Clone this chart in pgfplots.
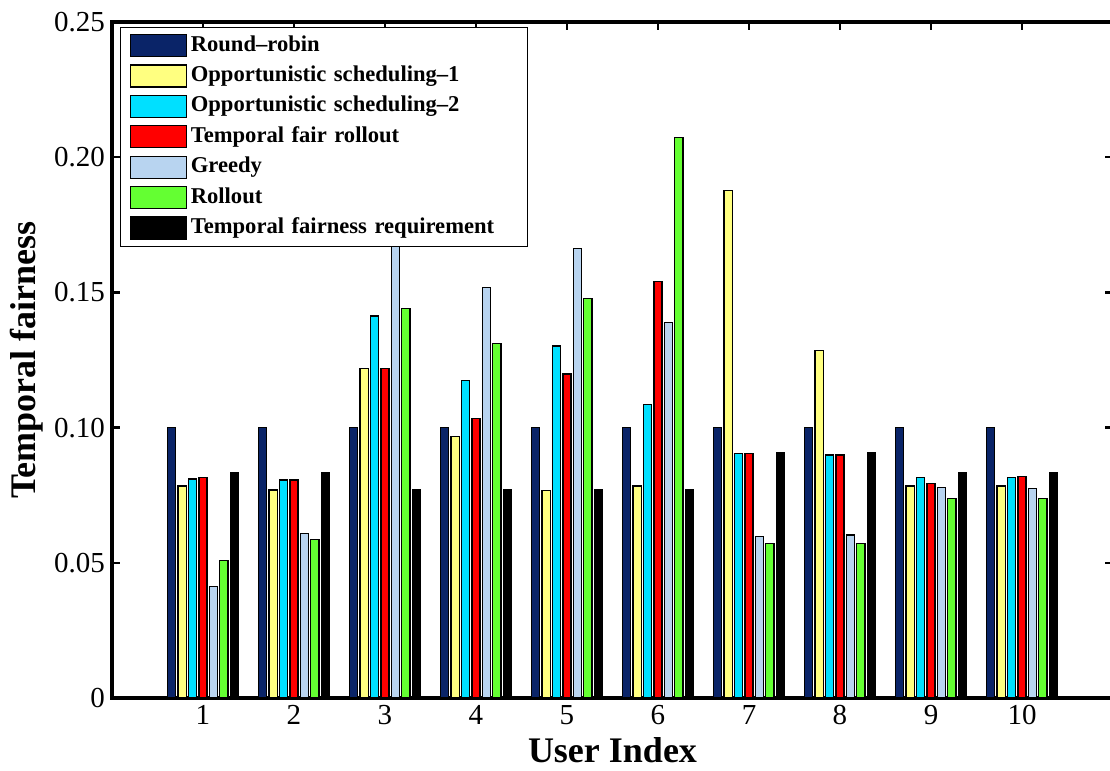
\documentclass[border=0pt]{standalone}
\usepackage{fontspec}
\setmainfont{Liberation Serif}
\usepackage{pgfplots}
\pgfplotsset{compat=1.18}

% Scheduler colours
\definecolor{rrblue}{RGB}{10,36,104}
\definecolor{opyellow}{RGB}{255,255,128}
\definecolor{opcyan}{RGB}{0,224,255}
\definecolor{tfred}{RGB}{255,0,0}
\definecolor{grblue}{RGB}{184,212,240}
\definecolor{rogreen}{RGB}{100,255,50}

\begin{document}
\begin{tikzpicture}
\begin{axis}[
  scale only axis,
  width=500.5pt, height=338pt,
  ybar, bar width=0.09,
  xmin=0, xmax=11, ymin=0, ymax=0.25,
  xtick={1,2,3,4,5,6,7,8,9,10},
  xticklabels={1,2,3,4,5,6,7,8,9,10},
  ytick={0,0.05,0.10,0.15,0.20,0.25},
  yticklabels={0,0.05,0.10,0.15,0.20,0.25},
  /pgf/number format/assume math mode=true,
  tick label style={font=\fontsize{14.5}{16}\selectfont},
  tick align=inside,
  major tick length=4pt,
  tick style={line width=1.2pt, black},
  axis line style={line width=1.6pt},
  xlabel={\bfseries User Index},
  ylabel={\bfseries Temporal fairness},
  label style={font=\fontsize{18}{20}\selectfont},
  xlabel style={at={(axis description cs:0.5,-0.077)}, anchor=center},
  ylabel style={at={(axis description cs:-0.085,0.5)}, anchor=center},
  legend image code/.code={\draw[#1,draw=black,line width=0.6pt] (0pt,-5.5pt) rectangle (28pt,5.5pt);},
  legend cell align=left,
  legend style={
    at={(0,1)}, anchor=north west, xshift=4pt, yshift=-2.4pt,
    draw=black, line width=0.6pt, fill=white,
    font=\fontsize{11.3}{13}\selectfont\bfseries,
    inner xsep=4.5pt, inner ysep=1.5pt, row sep=0pt,
    nodes={inner ysep=2.35pt, text height=8pt, text depth=2.5pt},
    /tikz/every even column/.append style={text width=162pt},
  },
]
\addplot[fill=rrblue, draw=black, line width=0.6pt, bar shift=-0.3438] coordinates {
  (1,0.1) (2,0.1) (3,0.1) (4,0.1) (5,0.1) (6,0.1) (7,0.1) (8,0.1) (9,0.1) (10,0.1)};
\addlegendentry{Round\textendash robin}
\addplot[fill=opyellow, draw=black, line width=0.6pt, bar shift=-0.2292] coordinates {
  (1,0.0784) (2,0.0769) (3,0.1219) (4,0.0966) (5,0.0768) (6,0.0784) (7,0.1876) (8,0.1286) (9,0.0784) (10,0.0784)};
\addlegendentry{Opportunistic scheduling\textendash 1}
\addplot[fill=opcyan, draw=black, line width=0.6pt, bar shift=-0.1146] coordinates {
  (1,0.0810) (2,0.0806) (3,0.1413) (4,0.1174) (5,0.1302) (6,0.1084) (7,0.0905) (8,0.0899) (9,0.0815) (10,0.0815)};
\addlegendentry{Opportunistic scheduling\textendash 2}
\addplot[fill=tfred, draw=black, line width=0.6pt, bar shift=0] coordinates {
  (1,0.0816) (2,0.0806) (3,0.1219) (4,0.1034) (5,0.1198) (6,0.1540) (7,0.0905) (8,0.0899) (9,0.0794) (10,0.0820)};
\addlegendentry{Temporal fair rollout}
\addplot[fill=grblue, draw=black, line width=0.6pt, bar shift=0.1146] coordinates {
  (1,0.0412) (2,0.0608) (3,0.1780) (4,0.1519) (5,0.1663) (6,0.1389) (7,0.0598) (8,0.0603) (9,0.0779) (10,0.0774)};
\addlegendentry{Greedy}
\addplot[fill=rogreen, draw=black, line width=0.6pt, bar shift=0.2292] coordinates {
  (1,0.0509) (2,0.0587) (3,0.1441) (4,0.1312) (5,0.1478) (6,0.2074) (7,0.0572) (8,0.0572) (9,0.0738) (10,0.0738)};
\addlegendentry{Rollout}
\addplot[fill=black, draw=black, line width=0.6pt, bar shift=0.3438] coordinates {
  (1,0.0833) (2,0.0833) (3,0.0769) (4,0.0769) (5,0.0769) (6,0.0769) (7,0.0909) (8,0.0909) (9,0.0833) (10,0.0833)};
\addlegendentry{Temporal fairness requirement}
\end{axis}
\pgfresetboundingbox
\useasboundingbox ([xshift=-56pt,yshift=-36.5pt]current axis.south west)
  rectangle ([xshift=-1.5pt,yshift=11pt]current axis.north east);
\end{tikzpicture}
\end{document}
